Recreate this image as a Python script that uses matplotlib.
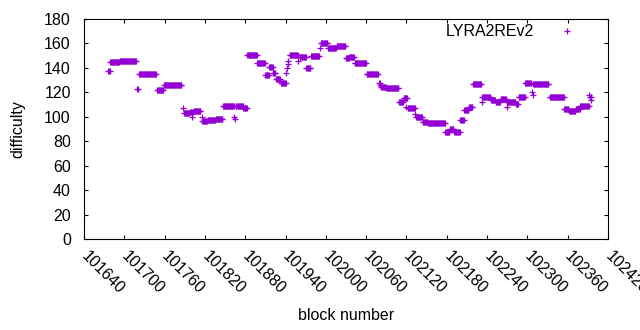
import numpy as np
import matplotlib
matplotlib.use("Agg")
import matplotlib.pyplot as plt
from matplotlib.transforms import ScaledTranslation

plt.rcParams['font.family'] = ['Liberation Sans', 'DejaVu Sans']

run_start = [101676, 101679, 101693, 101719, 101722, 101749, 101759, 101787, 101789, 101798,
             101801, 101803, 101815, 101816, 101824, 101836, 101847, 101864, 101865, 101866,
             101877, 101883, 101898, 101910, 101916, 101922, 101926, 101933, 101941, 101942,
             101943, 101944, 101946, 101959, 101961, 101971, 101978, 101991, 101993, 102003,
             102016, 102030, 102035, 102043, 102061, 102079, 102081, 102082, 102090, 102109,
             102110, 102116, 102120, 102122, 102133, 102134, 102144, 102152, 102158, 102178,
             102185, 102191, 102200, 102206, 102213, 102219, 102232, 102233, 102246, 102253,
             102260, 102269, 102270, 102283, 102287, 102297, 102307, 102308, 102309, 102333,
             102355, 102362, 102372, 102379, 102392, 102393, 102395]
run_end = [101678, 101692, 101717, 101720, 101747, 101758, 101785, 101787, 101797, 101802,
           101801, 101813, 101815, 101823, 101835, 101846, 101863, 101864, 101865, 101876,
           101882, 101897, 101909, 101915, 101921, 101925, 101932, 101940, 101941, 101942,
           101943, 101944, 101958, 101959, 101970, 101977, 101990, 101991, 102002, 102015,
           102029, 102034, 102042, 102060, 102077, 102080, 102081, 102089, 102108, 102109,
           102115, 102121, 102120, 102132, 102133, 102143, 102151, 102157, 102177, 102184,
           102190, 102199, 102205, 102212, 102218, 102231, 102232, 102245, 102252, 102259,
           102268, 102269, 102282, 102286, 102296, 102305, 102307, 102308, 102331, 102354,
           102361, 102371, 102378, 102391, 102392, 102394, 102395]
run_value = [137.5, 144.5, 146.0, 122.5, 134.7, 121.6, 125.7, 106.9, 102.8, 103.5,
             100.0, 104.7, 99.5, 96.5, 97.1, 97.9, 108.5, 100.0, 98.5, 108.8,
             107.3, 150.3, 143.7, 133.9, 140.4, 135.5, 131.2, 128.0, 135.5, 140.0,
             143.0, 146.0, 150.3, 146.0, 148.5, 139.6, 149.4, 156.0, 160.1, 156.0,
             157.6, 147.8, 148.6, 143.7, 134.7, 128.0, 126.0, 124.1, 123.3, 112.3,
             112.1, 115.0, 108.3, 106.9, 102.3, 100.0, 96.0, 95.3, 94.6, 87.8,
             90.0, 87.8, 97.0, 105.8, 107.7, 126.7, 111.8, 115.8, 113.7, 112.1,
             114.5, 108.3, 112.3, 110.4, 115.8, 127.3, 120.5, 118.0, 126.5, 115.8,
             106.3, 104.7, 106.5, 108.8, 118.0, 116.2, 114.0]

xticks = list(range(101640, 102421, 60))
yticks = list(range(0, 181, 20))

blocks = []
diff = []
for s, e, v in zip(run_start, run_end, run_value):
    for b in range(s, e + 1):
        blocks.append(b)
        diff.append(v)

fs = 11.5
fig = plt.figure(figsize=(6.4, 3.3), dpi=100)
ax = fig.add_axes([84 / 640, 1 - 239 / 330, 524 / 640, 220 / 330])

ax.plot(blocks, diff, linestyle='none', marker='+', markersize=5, markeredgewidth=0.9,
        color='#9400d3', label='LYRA2REv2')

ax.set_xlim(101640, 102420)
ax.set_ylim(0, 180)
ax.set_xticks(xticks)
ax.set_yticks(yticks)
ax.set_xticklabels([str(t) for t in xticks], rotation=-45, ha='left', va='top',
                   rotation_mode='anchor')
ax.tick_params(direction='in', length=3, width=0.8, top=True, right=True,
               labelsize=fs, colors='black')
ax.tick_params(axis='x', pad=6.5)
ax.tick_params(axis='y', pad=9.5)
shift = ScaledTranslation(5 / 100, 0, fig.dpi_scale_trans)
for lab in ax.get_xticklabels():
    lab.set_transform(lab.get_transform() + shift)
for sp in ax.spines.values():
    sp.set_linewidth(0.8)

ax.set_xlabel('block number', fontsize=fs)
ax.set_ylabel('difficulty', fontsize=fs)
ax.xaxis.set_label_coords(0.5, -0.315)
ax.yaxis.set_label_coords(-0.112, 0.5)

ax.legend(loc='upper right', bbox_to_anchor=(0.960, 0.975), frameon=False,
          markerfirst=False, handlelength=2.5, handletextpad=0.85, borderpad=0,
          borderaxespad=0, fontsize=fs)

fig.savefig('out.png', dpi=100)
